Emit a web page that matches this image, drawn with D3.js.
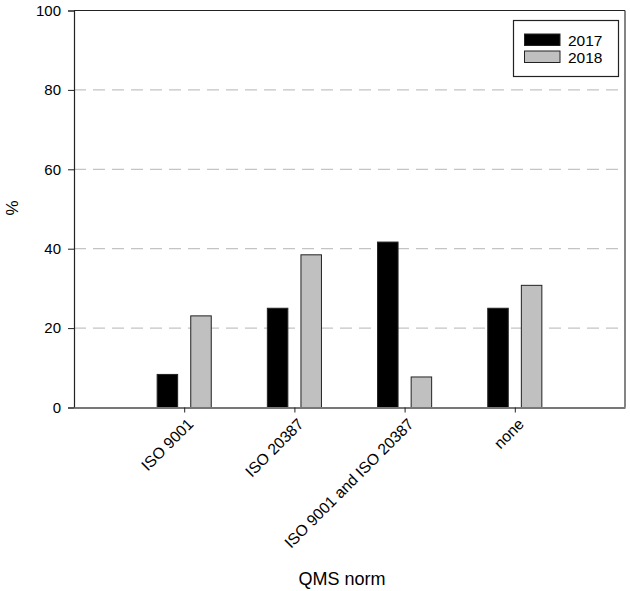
<!DOCTYPE html>
<html lang="en">
<head>
<meta charset="utf-8">
<title>QMS norm</title>
<script src="https://d3js.org/d3.v7.min.js"></script>
<style>
  body{margin:0;background:#fff;}
  svg{font-family:"Liberation Sans",Arial,sans-serif;}
</style>
</head>
<body>
<div id="chart"></div>
<script>
// values
var categories = ["ISO 9001", "ISO 20387", "ISO 9001 and ISO 20387", "none"]
var years = ["2017", "2018"]
var values2017 = [8.33, 25.0, 41.67, 25.0]
var values2018 = [23.08, 38.46, 7.69, 30.77]
var yTicks = [0, 20, 40, 60, 80, 100]

var w = 630, h = 591
var plotL = 74, plotR = 625, plotT = 10.5, plotB = 407.5

var svg = d3.select("#chart").append("svg")
    .attr("width", w).attr("height", h)

// categories sit at 1..4 on a 0..5 axis
var xScale = d3.scaleLinear().domain([0, categories.length + 1]).range([plotL, plotR])
var yScale = d3.scaleLinear().domain([0, 100]).range([plotB, plotT])
var colors = {"2017": "#000", "2018": "#c0c0c0"}

var barW = 20.5
var offset = 16.8

// dashed grid
svg.selectAll(".grid")
    .data(yTicks.filter(function(d){ return d > 0 && d < 100 }))
    .enter().append("line")
    .attr("class", "grid")
    .attr("x1", plotL).attr("x2", plotR)
    .attr("y1", function(d){ return yScale(d) })
    .attr("y2", function(d){ return yScale(d) })
    .attr("stroke", "#c4c4c4")
    .attr("stroke-width", 1.2)
    .attr("stroke-dasharray", "12,7")

// bars
var rows = categories.map(function(c, i){
    return {cat: c, i: i, vals: [values2017[i], values2018[i]]}
})
rows.forEach(function(r){
    svg.selectAll(null)
        .data(r.vals)
        .enter().append("rect")
        .attr("x", function(d, j){ return xScale(r.i + 1) + (j == 0 ? -offset : offset) - barW / 2 })
        .attr("y", function(d){ return yScale(d) })
        .attr("width", barW)
        .attr("height", function(d){ return plotB - yScale(d) })
        .attr("fill", function(d, j){ return colors[years[j]] })
        .attr("stroke", "#222")
        .attr("stroke-width", 1)
})

// frame
svg.append("line").attr("x1", plotL).attr("x2", plotR).attr("y1", plotT).attr("y2", plotT)
    .attr("stroke", "#222").attr("stroke-width", 1.2)
svg.append("line").attr("x1", plotR).attr("x2", plotR).attr("y1", plotT).attr("y2", plotB)
    .attr("stroke", "#333").attr("stroke-width", 1.2)

// y axis
var yAxis = d3.axisLeft(yScale).tickValues(yTicks).tickSize(6).tickPadding(7)
var gy = svg.append("g").attr("transform", "translate(" + plotL + ",0)").call(yAxis)
gy.select(".domain").attr("stroke", "#222").attr("stroke-width", 1.2)
gy.selectAll(".tick line").attr("stroke", "#222")
gy.selectAll("text").attr("font-size", 15).attr("fill", "#000")
    .attr("font-family", "Liberation Sans, Arial, sans-serif")

// x axis
var xAxis = d3.axisBottom(xScale)
    .tickValues(d3.range(1, categories.length + 1))
    .tickFormat(function(d){ return categories[d - 1] })
    .tickSize(5).tickSizeOuter(0)
var gx = svg.append("g").attr("transform", "translate(0," + plotB + ")").call(xAxis)
gx.select(".domain").attr("stroke", "#777").attr("stroke-width", 2)
gx.selectAll(".tick line").attr("stroke", "#222")
gx.selectAll("text")
    .attr("font-size", 15.6).attr("fill", "#000")
    .attr("font-family", "Liberation Sans, Arial, sans-serif")
    .attr("text-anchor", "end")
    .attr("dy", "0")
    .attr("transform", "translate(4,12) rotate(-45)")

// axis titles
svg.append("text")
    .attr("transform", "translate(18,208) rotate(-90)")
    .attr("text-anchor", "middle")
    .attr("font-size", 17)
    .text("%")
svg.append("text")
    .attr("x", 342).attr("y", 585)
    .attr("text-anchor", "middle")
    .attr("font-size", 18)
    .text("QMS norm")

// legend
var lg = svg.append("g")
lg.append("rect").attr("x", 513.5).attr("y", 20.5).attr("width", 105).attr("height", 56)
    .attr("fill", "#fff").attr("stroke", "#222").attr("stroke-width", 1.2)
years.forEach(function(y, j){
    lg.append("rect")
        .attr("x", 524.5).attr("y", 34 + j * 17).attr("width", 35.5).attr("height", 11.5)
        .attr("fill", colors[y]).attr("stroke", "#222").attr("stroke-width", 1)
    lg.append("text")
        .attr("x", 568).attr("y", 45.5 + j * 17)
        .attr("font-size", 15.5)
        .text(y)
})
</script>
</body>
</html>
